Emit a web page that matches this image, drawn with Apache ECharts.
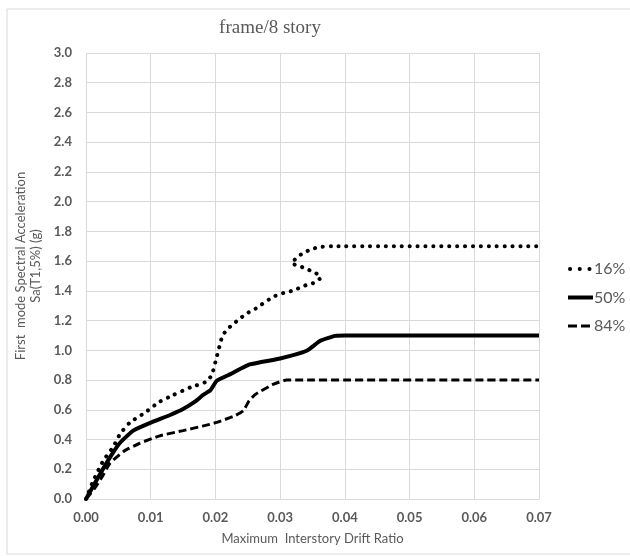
<!DOCTYPE html>
<html>
<head>
<meta charset="utf-8">
<script src="https://cdn.jsdelivr.net/npm/echarts@6/dist/echarts.min.js"></script>
<style>
  html, body { margin: 0; padding: 0; background: #ffffff; }
  #chart { width: 630px; height: 556px; }
</style>
</head>
<body>
<div id="chart"></div>
<script>
// Fractile IDA curves: [maximum interstory drift ratio, Sa(T1,5%) in g]
const seriesNames = ['16%', '50%', '84%'];
const xTicks = [0, 0.01, 0.02, 0.03, 0.04, 0.05, 0.06, 0.07];
const yTicks = [0, 0.2, 0.4, 0.6, 0.8, 1.0, 1.2, 1.4, 1.6, 1.8, 2.0, 2.2, 2.4, 2.6, 2.8, 3.0];

const curve16 = [
  [0, 0], [0.0011, 0.12], [0.0027, 0.26], [0.0042, 0.35], [0.0053, 0.44],
  [0.0068, 0.515], [0.0091, 0.58], [0.0112, 0.65], [0.0135, 0.70], [0.0161, 0.75],
  [0.0184, 0.785], [0.0194, 0.83], [0.0201, 0.94], [0.0207, 1.04], [0.0211, 1.10],
  [0.0218, 1.14], [0.0227, 1.175], [0.0237, 1.21], [0.0247, 1.245], [0.0262, 1.28],
  [0.0289, 1.36], [0.0305, 1.385], [0.0318, 1.40], [0.0330, 1.42], [0.0341, 1.44],
  [0.0353, 1.455], [0.0363, 1.49], [0.0355, 1.52], [0.0342, 1.545], [0.0331, 1.565],
  [0.0318, 1.585], [0.0326, 1.625], [0.0336, 1.655], [0.0348, 1.68], [0.0361, 1.695],
  [0.0380, 1.70], [0.0700, 1.70]
];
const curve50 = [
  [0, 0], [0.0022, 0.17], [0.0040, 0.30], [0.0053, 0.38], [0.0073, 0.46],
  [0.0101, 0.515], [0.0130, 0.565], [0.0150, 0.605], [0.0170, 0.66], [0.0181, 0.70],
  [0.0192, 0.73], [0.0202, 0.795], [0.0223, 0.84], [0.0253, 0.905], [0.0300, 0.945],
  [0.0341, 0.997], [0.0362, 1.064], [0.0385, 1.097], [0.0400, 1.10], [0.0700, 1.10]
];
const curve84 = [
  [0, 0], [0.0013, 0.07], [0.0025, 0.15], [0.0037, 0.24], [0.0058, 0.32], [0.0083, 0.375],
  [0.0114, 0.425], [0.0150, 0.46], [0.0180, 0.49], [0.0202, 0.515], [0.0230, 0.56],
  [0.0243, 0.594], [0.0252, 0.66], [0.0262, 0.705], [0.0290, 0.773], [0.0310, 0.80],
  [0.0700, 0.80]
];

const textGray = '#595959';
const gridGray = '#d9d9d9';
const sansFont = 'Lato, "Open Sans", sans-serif';

// Line styles shared by the curves and their legend keys
const styles = [
  { width: 4, dash: [0.1, 7.8], keyDash: [0.1, 9.6], cap: 'round' },
  { width: 4, dash: null, keyDash: null, cap: 'butt' },
  { width: 3, dash: [8, 4], keyDash: [9, 4], cap: 'butt' }
];

// Hand-built legend: a short line sample followed by the fractile label
const legendTop = 269;
const legendStep = 28.5;
const legendGraphics = [];
seriesNames.forEach((name, i) => {
  const y = legendTop + i * legendStep;
  const s = styles[i];
  legendGraphics.push({
    type: 'line',
    shape: { x1: i === 0 ? 570 : 568, y1: y, x2: 593, y2: y },
    style: { stroke: '#000000', lineWidth: s.width, lineDash: s.keyDash, lineCap: s.cap },
    silent: true
  });
  legendGraphics.push({
    type: 'text',
    x: 594,
    y: y,
    style: {
      text: name, fill: textGray, fontFamily: sansFont, fontSize: 16,
      verticalAlign: 'middle', align: 'left'
    },
    silent: true
  });
});

const chart = echarts.init(document.getElementById('chart'), null, { renderer: 'canvas' });

chart.setOption({
  backgroundColor: '#ffffff',
  animation: false,
  title: {
    text: 'frame/8 story',
    left: 265,
    textAlign: 'center',
    top: 14,
    textStyle: {
      fontFamily: '"Liberation Serif", serif',
      fontSize: 19,
      fontWeight: 'normal',
      color: textGray
    }
  },
  graphic: [{
    type: 'rect',
    shape: { x: 7, y: 9, width: 640, height: 545 },
    style: { fill: 'none', stroke: '#d9d9d9', lineWidth: 1 },
    silent: true,
    z: -10
  }].concat(legendGraphics),
  grid: { left: 86, right: 91, top: 53, bottom: 57 },
  xAxis: {
    type: 'value',
    min: xTicks[0],
    max: xTicks[xTicks.length - 1],
    interval: 0.01,
    name: 'Maximum  Interstory Drift Ratio',
    nameLocation: 'middle',
    nameGap: 33,
    nameTextStyle: { fontFamily: sansFont, fontSize: 13, color: textGray },
    axisLine: { show: true, lineStyle: { color: gridGray } },
    axisTick: { show: false },
    axisLabel: {
      margin: 12,
      fontFamily: sansFont,
      fontSize: 13,
      fontWeight: 'bold',
      color: textGray,
      formatter: v => v.toFixed(2)
    },
    splitLine: { show: true, lineStyle: { color: gridGray, width: 1 } }
  },
  yAxis: {
    type: 'value',
    min: yTicks[0],
    max: yTicks[yTicks.length - 1],
    interval: 0.2,
    name: 'First  mode Spectral Acceleration\nSa(T1,5%) (g)',
    nameLocation: 'middle',
    nameGap: 43,
    nameTextStyle: { fontFamily: sansFont, fontSize: 13, color: textGray, lineHeight: 15, padding: [0, 0, 0, 20] },
    axisLine: { show: false },
    axisTick: { show: false },
    axisLabel: {
      margin: 14,
      fontFamily: sansFont,
      fontSize: 13,
      fontWeight: 'bold',
      color: textGray,
      formatter: v => v.toFixed(1)
    },
    splitLine: { show: true, lineStyle: { color: gridGray, width: 1 } }
  },
  series: [curve16, curve50, curve84].map((data, i) => ({
    name: seriesNames[i],
    type: 'line',
    data: data,
    symbol: 'none',
    smooth: 0.15,
    color: '#000000',
    lineStyle: {
      color: '#000000',
      width: styles[i].width,
      type: styles[i].dash || 'solid',
      cap: styles[i].cap
    }
  }))
});
</script>
</body>
</html>
